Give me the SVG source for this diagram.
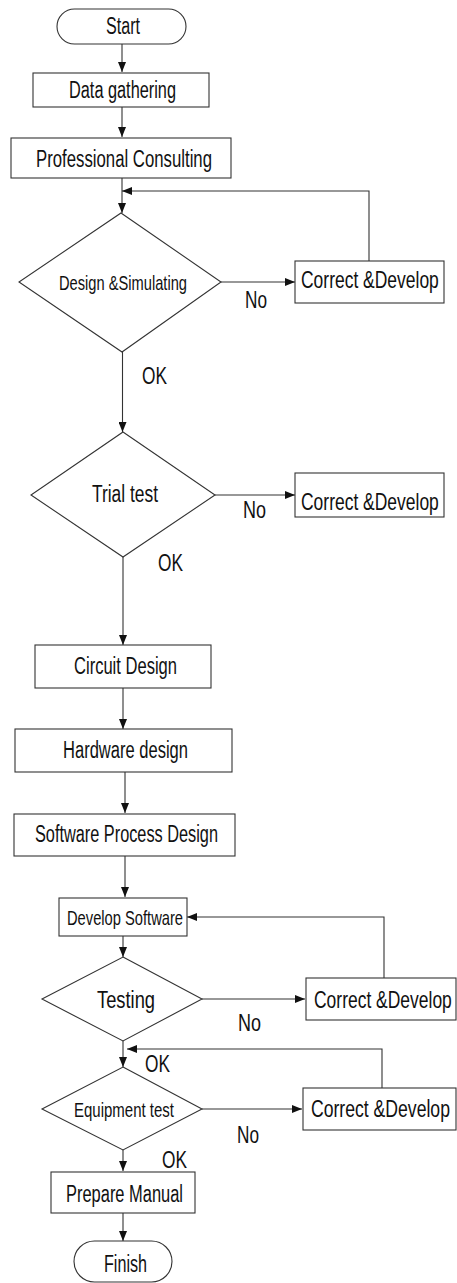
<svg xmlns="http://www.w3.org/2000/svg" width="457" height="1283" viewBox="0 0 457 1283">
  <style>
    .shape { fill: #ffffff; stroke: #333333; stroke-width: 1.1; }
    .edge { fill: none; stroke: #333333; stroke-width: 1.1; marker-end: url(#arrow); }
    text { font-family: "Liberation Sans", Arial, sans-serif; font-size: 23px; fill: #111111; }
    .sm { font-size: 21px; }
  </style>
  <defs>
    <marker id="arrow" markerUnits="userSpaceOnUse" markerWidth="10" markerHeight="8" refX="10" refY="4" orient="auto">
      <path d="M0,0 L10,4 L0,8 Z" fill="#111111"/>
    </marker>
  </defs>

  <rect width="457" height="1283" fill="#ffffff"/>

  <!-- connectors and their branch labels -->
  <g id="connectors">
    <path class="edge" d="M122,44 V72"/>
    <path class="edge" d="M122,107 V137"/>
    <path class="edge" d="M122,178 V213"/>
    <path class="edge" d="M369,261 V191 H122"/>
    <path class="edge" d="M221,282 H295"/>
    <path class="edge" d="M122.5,352 V432"/>
    <path class="edge" d="M215,495 H295"/>
    <path class="edge" d="M123,557 V645"/>
    <path class="edge" d="M123,688 V729"/>
    <path class="edge" d="M125,772 V813"/>
    <path class="edge" d="M125,856 V897"/>
    <path class="edge" d="M123,936 V957"/>
    <path class="edge" d="M202,999 H305"/>
    <path class="edge" d="M384,978 V917 H187"/>
    <path class="edge" d="M123,1041 V1067"/>
    <path class="edge" d="M382,1088 V1049 H127"/>
    <path class="edge" d="M202,1109 H302"/>
    <path class="edge" d="M123,1150 V1171"/>
    <path class="edge" d="M123,1213 V1241"/>
    <text x="245" y="308" textLength="22" lengthAdjust="spacingAndGlyphs">No</text>
    <text x="142" y="384" textLength="25" lengthAdjust="spacingAndGlyphs">OK</text>
    <text x="243" y="518" textLength="23" lengthAdjust="spacingAndGlyphs">No</text>
    <text x="158" y="571" textLength="25" lengthAdjust="spacingAndGlyphs">OK</text>
    <text x="238" y="1031" textLength="23" lengthAdjust="spacingAndGlyphs">No</text>
    <text x="145" y="1072" textLength="25" lengthAdjust="spacingAndGlyphs">OK</text>
    <text x="237" y="1143" textLength="22" lengthAdjust="spacingAndGlyphs">No</text>
    <text x="162" y="1168" textLength="25" lengthAdjust="spacingAndGlyphs">OK</text>
  </g>

  <!-- nodes -->
  <g id="start">
    <rect class="shape" x="57" y="9" width="129" height="35" rx="17.5"/>
    <text x="106" y="34" textLength="34" lengthAdjust="spacingAndGlyphs">Start</text>
  </g>
  <g id="data-gathering">
    <rect class="shape" x="33" y="73" width="176" height="34"/>
    <text x="69" y="98" textLength="107" lengthAdjust="spacingAndGlyphs">Data gathering</text>
  </g>
  <g id="professional-consulting">
    <rect class="shape" x="11" y="138" width="220" height="40"/>
    <text x="36" y="167" textLength="176" lengthAdjust="spacingAndGlyphs">Professional Consulting</text>
  </g>
  <g id="design-simulating">
    <polygon class="shape" points="121,213 221,282 122,352 19,282"/>
    <text class="sm" x="59" y="290" textLength="128" lengthAdjust="spacingAndGlyphs">Design &amp;Simulating</text>
  </g>
  <g id="correct-1">
    <rect class="shape" x="295" y="261" width="149" height="42"/>
    <text transform="translate(301,288) scale(0.76,1)">Correct &amp;Develop</text>
  </g>
  <g id="trial-test">
    <polygon class="shape" points="123,432 215,495 123,557 31,495"/>
    <text x="92" y="502" textLength="66" lengthAdjust="spacingAndGlyphs">Trial test</text>
  </g>
  <g id="correct-2">
    <rect class="shape" x="295" y="473" width="149" height="44"/>
    <text transform="translate(301,510) scale(0.76,1)">Correct &amp;Develop</text>
  </g>
  <g id="circuit-design">
    <rect class="shape" x="35" y="645" width="176" height="43"/>
    <text x="74" y="674" textLength="103" lengthAdjust="spacingAndGlyphs">Circuit Design</text>
  </g>
  <g id="hardware-design">
    <rect class="shape" x="15" y="729" width="217" height="43"/>
    <text x="63" y="758" textLength="125" lengthAdjust="spacingAndGlyphs">Hardware design</text>
  </g>
  <g id="software-process-design">
    <rect class="shape" x="14" y="814" width="221" height="42"/>
    <text x="35" y="842" textLength="183" lengthAdjust="spacingAndGlyphs">Software Process Design</text>
  </g>
  <g id="develop-software">
    <rect class="shape" x="59" y="898" width="128" height="38"/>
    <text class="sm" x="67" y="925" textLength="116" lengthAdjust="spacingAndGlyphs">Develop Software</text>
  </g>
  <g id="testing">
    <polygon class="shape" points="123,957 202,999 123,1041 42,999"/>
    <text x="97" y="1008" textLength="58" lengthAdjust="spacingAndGlyphs">Testing</text>
  </g>
  <g id="correct-3">
    <rect class="shape" x="306" y="978" width="150" height="42"/>
    <text transform="translate(314,1008) scale(0.76,1)">Correct &amp;Develop</text>
  </g>
  <g id="equipment-test">
    <polygon class="shape" points="123,1067 202,1109 123,1150 42,1109"/>
    <text class="sm" x="74" y="1117" textLength="100" lengthAdjust="spacingAndGlyphs">Equipment test</text>
  </g>
  <g id="correct-4">
    <rect class="shape" x="303" y="1088" width="153" height="42"/>
    <text transform="translate(311,1117) scale(0.766,1)">Correct &amp;Develop</text>
  </g>
  <g id="prepare-manual">
    <rect class="shape" x="51" y="1172" width="144" height="41"/>
    <text x="66" y="1202" textLength="117" lengthAdjust="spacingAndGlyphs">Prepare Manual</text>
  </g>
  <g id="finish">
    <rect class="shape" x="74" y="1241" width="98" height="41" rx="20.5"/>
    <text x="104" y="1272" textLength="43" lengthAdjust="spacingAndGlyphs">Finish</text>
  </g>
</svg>
